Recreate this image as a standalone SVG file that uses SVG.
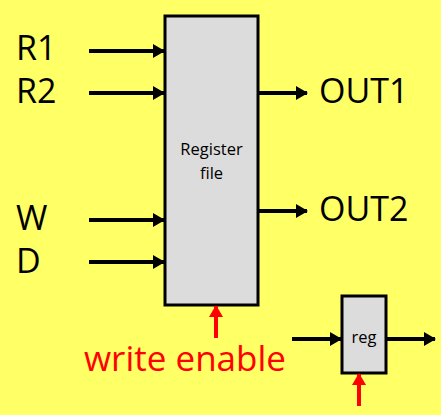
<svg xmlns="http://www.w3.org/2000/svg" width="441" height="415" viewBox="0 0 441 415">
<style>
.box{fill:#dcdcdc;stroke:#000;stroke-width:3}
.big{font-family:"Open Sans","Liberation Sans",sans-serif;font-size:34px;fill:#000}
.small{font-family:"Open Sans","Liberation Sans",sans-serif;font-size:16.5px;fill:#000;text-anchor:middle}
.w{stroke:#000;stroke-width:4;fill:none}
.r{stroke:#f00;stroke-width:4;fill:none}
</style>
<defs>
<marker id="ah" markerWidth="12" markerHeight="14" refX="11" refY="7" orient="auto" markerUnits="userSpaceOnUse"><path d="M0,0 L12,7 L0,14 Z" fill="#000"/></marker>
<marker id="ahr" markerWidth="12" markerHeight="14" refX="11" refY="7" orient="auto" markerUnits="userSpaceOnUse"><path d="M0,0 L12,7 L0,14 Z" fill="#f00"/></marker>
</defs>
<rect width="441" height="415" fill="#ffff66"/>
<g id="regfile">
<rect class="box" x="165" y="16" width="93" height="289"/>
<text class="small" x="211.5" y="155">Register</text>
<text class="small" x="211.5" y="179">file</text>
</g>
<g id="reg">
<rect class="box" x="342" y="296" width="44" height="77"/>
<text class="small" x="364" y="343" font-size="14.5">reg</text>
</g>
<g id="labels">
<text class="big" x="16" y="60">R1</text>
<text class="big" x="16" y="103">R2</text>
<text class="big" x="16" y="230">W</text>
<text class="big" x="16" y="273">D</text>
<text class="big" x="319" y="103">OUT1</text>
<text class="big" x="319" y="221">OUT2</text>
<text x="84" y="371" font-family="Open Sans, Liberation Sans, sans-serif" font-size="35" fill="#f00">write enable</text>
</g>
<g id="connectors">
<line class="w" x1="89" y1="51" x2="164" y2="51" marker-end="url(#ah)"/>
<line class="w" x1="89" y1="93" x2="164" y2="93" marker-end="url(#ah)"/>
<line class="w" x1="89" y1="220" x2="164" y2="220" marker-end="url(#ah)"/>
<line class="w" x1="89" y1="262" x2="164" y2="262" marker-end="url(#ah)"/>
<line class="w" x1="258" y1="93" x2="307" y2="93" marker-end="url(#ah)"/>
<line class="w" x1="258" y1="211" x2="307" y2="211" marker-end="url(#ah)"/>
<line class="w" x1="292" y1="339" x2="341" y2="339" marker-end="url(#ah)"/>
<line class="w" x1="386" y1="339" x2="435" y2="339" marker-end="url(#ah)"/>
<line class="r" x1="216" y1="338" x2="216" y2="306" marker-end="url(#ahr)"/>
<line class="r" x1="359" y1="406" x2="359" y2="374" marker-end="url(#ahr)"/>
</g>
</svg>
